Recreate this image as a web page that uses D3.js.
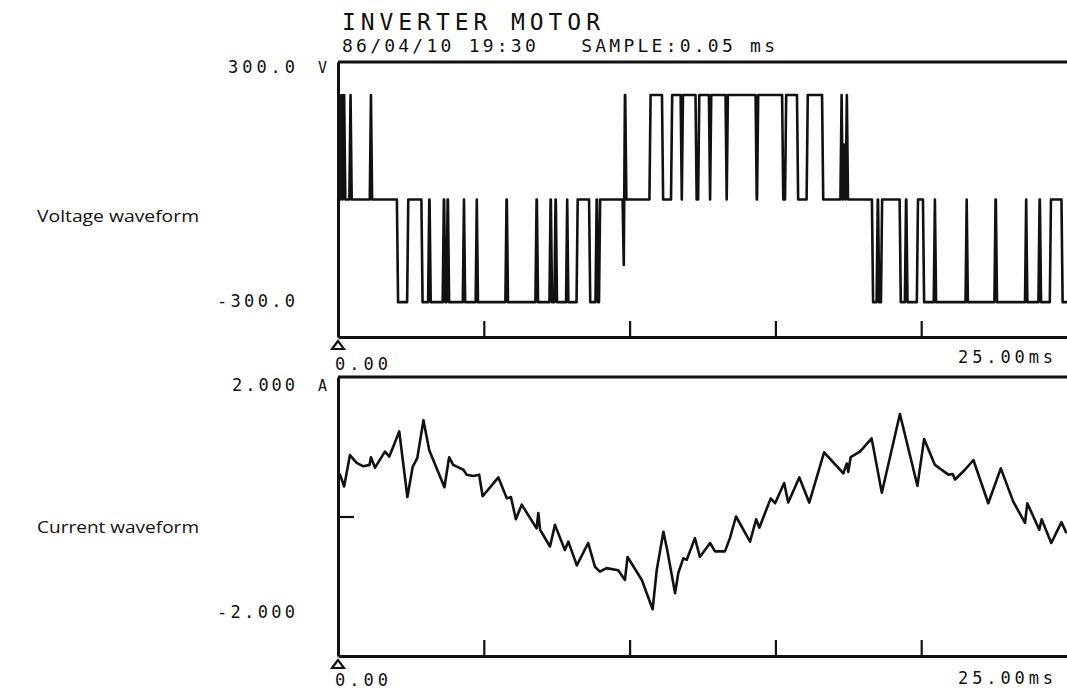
<!DOCTYPE html>
<html><head><meta charset="utf-8">
<script src="https://cdn.jsdelivr.net/npm/d3@7"></script>
<style>body{margin:0;background:#fff}svg{display:block}</style>
</head><body><svg id="c" width="1067" height="691"></svg>
<script>
// ---------- data ----------
const titleText = "INVERTER MOTOR";
const subtitleText = "86/04/10 19:30   SAMPLE:0.05 ms";
const panelNames = ["Voltage waveform", "Current waveform"];
const timeDomain = [0, 25];            // ms
const timeTicks = [5, 10, 15, 20];     // ms
const timeTickLabels = ["0.00", "25.00ms"];
const voltageDomain = [-300, 300];     // V
const voltageLabels = ["300.0", "-300.0"];
const voltageUnit = "V";
const currentDomain = [-2, 2];         // A
const currentLabels = ["2.000", "-2.000"];
const currentUnit = "A";
const currentZeroTick = [0];

// voltage: PWM step waveform, initial level then switching edges (time ms, new level V)
const vInitial = 228;
const vEdgeTimes = [0.03,0.08,0.12,0.16,0.21,0.39,0.43,1.09,1.13,2.02,
  2.37,2.86,3.09,3.14,3.59,3.64,3.72,3.77,4.28,4.32,4.72,4.76,5.74,5.79,6.77,6.82,
  7.25,7.30,7.42,7.47,7.82,7.86,8.18,8.61,8.83,8.88,8.95,9.76,9.80,9.85,
  10.68,11.11,11.42,11.75,11.79,12.26,12.35,12.72,12.76,13.29,13.33,14.32,14.37,
  15.23,15.33,15.74,16.07,16.60,17.23,17.27,17.32,17.36,17.41,17.45,
  18.31,18.47,18.52,18.62,19.26,19.44,19.49,19.85,20.06,20.43,20.47,21.52,21.56,
  22.51,22.56,23.56,23.60,24.02,24.07,24.41,24.81];
const vEdgeLevels = [0,228,0,228,0,228,0,228,0,-224,
  0,-224,0,-224,0,-224,0,-224,0,-224,0,-224,0,-224,0,-224,
  0,-224,0,-224,0,-224,0,-224,0,-224,0,-143,228,0,
  228,0,228,0,228,0,228,0,228,0,228,0,228,
  0,228,0,228,0,228,0,120,0,228,0,
  -224,0,-224,0,-224,0,-224,0,-224,0,-224,0,-224,
  0,-224,0,-224,0,-224,0,-224];
const vEndTime = 25;

// current waveform (time ms, current A)
const cTimes = [0.00,0.07,0.21,0.41,0.64,0.87,1.08,1.13,1.27,1.61,1.76,2.10,2.38,2.56,2.72,2.93,3.13,
  3.65,3.81,3.95,4.30,4.41,4.64,4.84,4.96,5.50,5.79,5.93,6.10,6.30,6.81,6.87,6.93,7.27,7.44,
  7.78,7.90,8.19,8.58,8.81,8.98,9.21,9.61,9.84,9.93,10.42,10.79,10.93,11.16,11.29,11.56,11.67,
  11.84,11.96,12.24,12.41,12.76,12.93,13.27,13.44,13.65,14.13,14.34,14.45,14.84,14.99,15.30,
  15.44,15.82,16.16,16.67,17.33,17.45,17.50,17.58,17.90,18.30,18.65,19.27,19.87,20.10,20.47,
  20.93,21.08,21.16,21.50,21.79,22.30,22.73,23.16,23.56,23.64,24.05,24.13,24.46,24.81,24.98];
const cValues = [0.57,0.60,0.43,0.88,0.77,0.72,0.74,0.85,0.70,0.93,0.86,1.22,0.28,0.71,0.84,1.38,0.95,
  0.42,0.85,0.74,0.67,0.60,0.58,0.60,0.29,0.56,0.26,0.28,-0.04,0.17,-0.17,0.05,-0.19,-0.43,-0.12,
  -0.48,-0.36,-0.70,-0.38,-0.72,-0.79,-0.74,-0.77,-0.91,-0.58,-0.91,-1.33,-0.77,-0.22,-0.48,-1.10,-0.81,
  -0.60,-0.62,-0.31,-0.58,-0.38,-0.50,-0.50,-0.31,0.00,-0.36,-0.04,-0.16,0.26,0.19,0.48,
  0.20,0.56,0.20,0.92,0.62,0.76,0.64,0.85,0.93,1.12,0.34,1.47,0.44,1.11,0.74,
  0.60,0.61,0.53,0.67,0.81,0.19,0.69,0.21,-0.09,0.19,-0.19,-0.04,-0.38,-0.08,-0.24];

// ---------- drawing ----------
const svg = d3.select("#c");
const ink = "#111";
const mono = "'DejaVu Sans Mono', monospace";

const x = d3.scaleLinear().domain(timeDomain).range([338, 1067]);
const yV = d3.scaleLinear().domain(voltageDomain).range([337, 62]);
const yC = d3.scaleLinear().domain(currentDomain).range([656, 377]);

// build voltage vertices from edges
const rampDt = 0.04;
const vPts = [[0, vInitial]];
let lvl = vInitial;
vEdgeTimes.forEach((t, i) => {
  vPts.push([t, lvl]);
  lvl = vEdgeLevels[i];
  vPts.push([t + rampDt, lvl]);
});
vPts.push([vEndTime, lvl]);
const cPts = cTimes.map((t, i) => [t, cValues[i]]);

function txt(g, s, px, py, size, w) {
  const t = g.append("text").attr("x", px).attr("y", py).text(s)
    .attr("font-family", mono).attr("font-size", size).attr("fill", ink)
    .style("white-space", "pre");
  if (w) t.attr("textLength", w).attr("lengthAdjust", "spacing");
  return t;
}

function panel(y, pts, labels, unit, labelX0, labelBaselines, name, nameY, zeroTicks, lowLabelY, hiLabelY) {
  const g = svg.append("g");
  const top = y(y.domain()[1]);
  g.append("line").attr("x1", x.range()[0]).attr("x2", x.range()[1])
    .attr("y1", top).attr("y2", top)
    .attr("stroke", ink).attr("stroke-width", 3);
  const la = d3.axisLeft(y).tickValues(zeroTicks).tickSize(-16).tickSizeOuter(0).tickFormat("");
  const lg = g.append("g").attr("transform", `translate(${x.range()[0]},0)`).call(la);
  const ba = d3.axisBottom(x).tickValues(timeTicks).tickSize(-16).tickSizeOuter(0).tickFormat("");
  const bg = g.append("g").attr("transform", `translate(0,${y.range()[0]})`).call(ba);
  [lg, bg].forEach(a => {
    a.selectAll("path").attr("stroke", ink).attr("stroke-width", 3);
    a.selectAll("line").attr("stroke", ink).attr("stroke-width", 2.2);
  });
  const ox = x(timeDomain[0]), oy = y.range()[0];
  g.append("path").attr("d", `M${ox},${oy+4}L${ox-6},${oy+12}L${ox+6},${oy+12}Z`)
    .attr("fill", "#fff").attr("stroke", ink).attr("stroke-width", 2.2);
  g.append("path").datum(pts)
    .attr("d", d3.line().x(d => x(d[0])).y(d => y(d[1])))
    .attr("fill", "none").attr("stroke", ink).attr("stroke-width", 2.6)
    .attr("stroke-linejoin", "round");
  txt(g, labels[0], labelX0, labelBaselines[0], 17, 295 - labelX0);
  txt(g, labels[1], 217, labelBaselines[1], 17, 78);
  txt(g, unit, 318, labelBaselines[0], 15);
  txt(g, timeTickLabels[0], 335, lowLabelY, 17, 53);
  txt(g, timeTickLabels[1], 958, hiLabelY, 17, 95);
  g.append("text").attr("x", 37).attr("y", nameY).text(name)
    .attr("font-family", "'Open Sans', sans-serif").attr("font-size", 17).attr("fill", ink)
    .attr("textLength", 162).attr("lengthAdjust", "spacingAndGlyphs");
}

panel(yV, vPts, voltageLabels, voltageUnit, 228, [73, 307], panelNames[0], 222, [], 370, 363);
panel(yC, cPts, currentLabels, currentUnit, 232, [391, 618], panelNames[1], 533, currentZeroTick, 686, 684);

const tg = svg.append("g");
txt(tg, titleText, 342, 30, 23, 258);
txt(tg, subtitleText, 342, 52, 18, 433);
</script>
</body></html>
